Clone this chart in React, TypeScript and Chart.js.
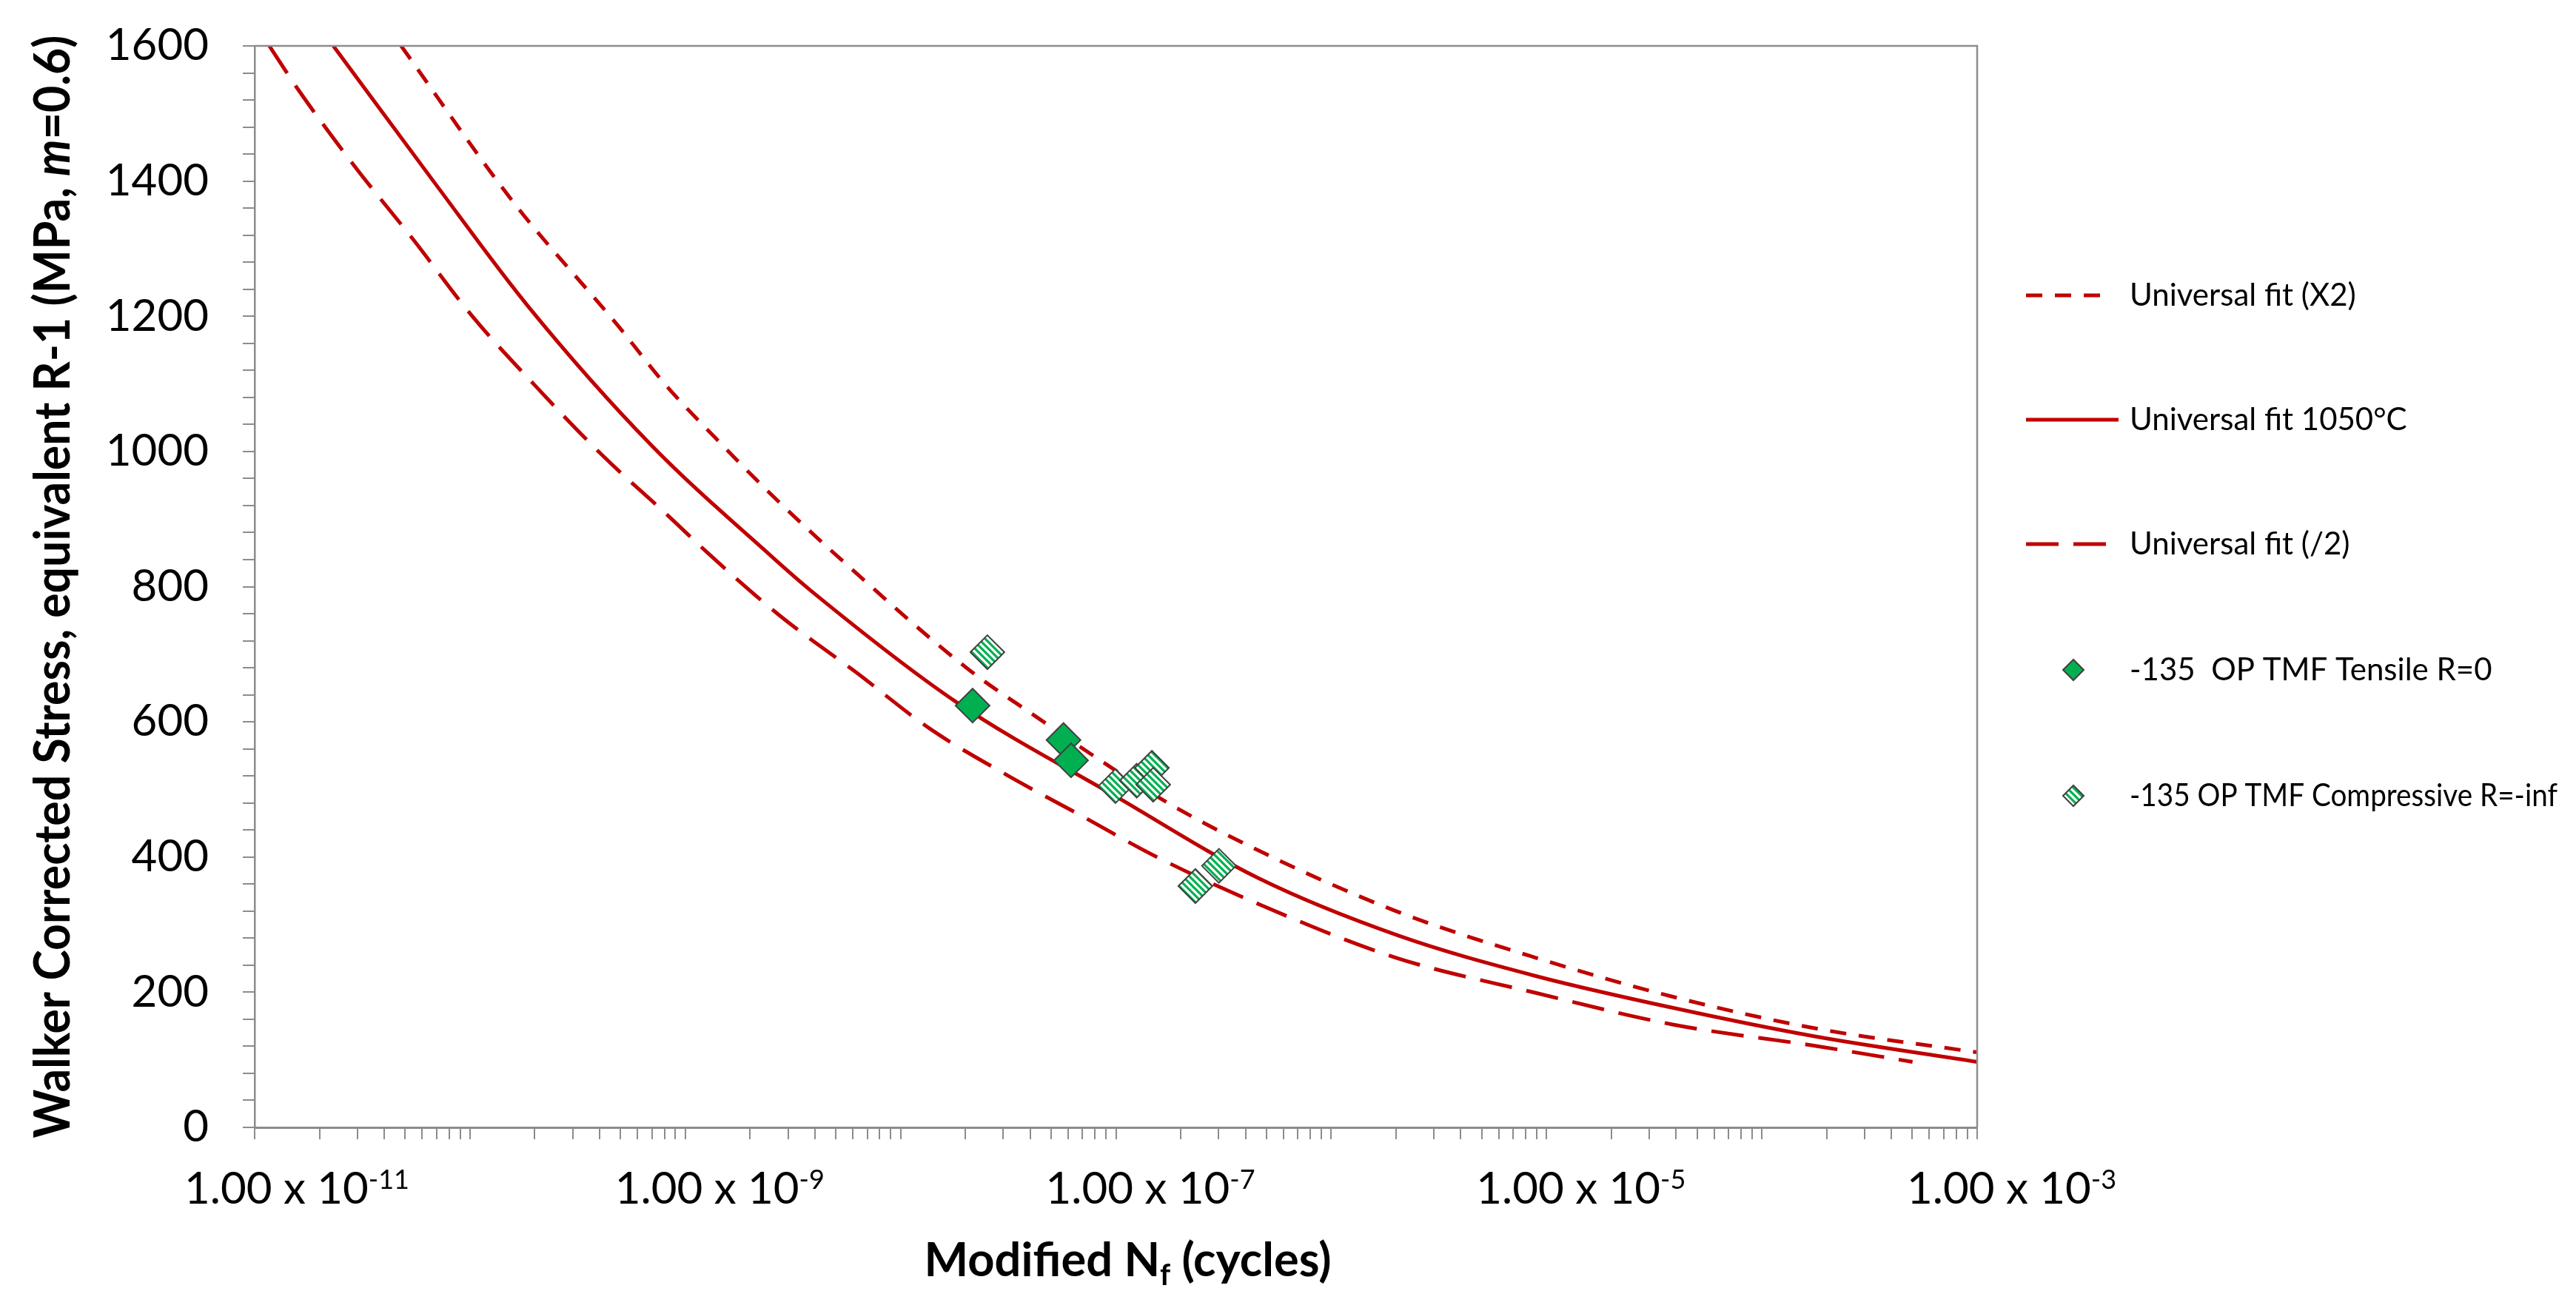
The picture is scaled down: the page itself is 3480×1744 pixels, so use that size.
import React, { useEffect, useRef } from 'react';
import { Chart, registerables } from 'chart.js';

Chart.register(...registerables);

// Universal fit curves: modified Nf (cycles) and Walker stress (MPa)
const FIT_N = [2.32e-11, 6.76e-11, 1.86e-10, 6.92e-10, 2.51e-9, 3.8e-9, 1.82e-8, 1.02e-7, 4.57e-7, 2.04e-6, 8.91e-6, 3.98e-5, 1.74e-4, 1e-3];
const FIT_S = [1600, 1400, 1215, 1010, 845, 795, 629, 488, 369, 284, 224, 176, 135, 97];

const FIT_X2_N = [4.79e-11, 1.58e-10, 4.9e-10, 8.13e-10, 1.38e-9, 2.57e-9, 5.01e-9, 2.04e-8, 3.98e-8, 1.62e-7, 4.57e-7, 2e-6, 8.91e-6, 3.89e-5, 1.74e-4, 1e-3];
const FIT_X2_S = [1600, 1370, 1185, 1098, 1020, 933, 847, 679, 614, 486, 410, 320, 251, 193, 147, 111];

const FIT_HALF_N = [1.17e-11, 1.58e-11, 2.88e-11, 5.5e-11, 1.02e-10, 2e-10, 4.07e-10, 8.32e-10, 1.26e-9, 2.75e-9, 6.17e-9, 1.38e-8, 3.09e-8, 6.92e-8, 1.55e-7, 4.79e-7, 2e-6, 8.91e-6, 3.89e-5, 1.74e-4, 5.01e-4];
const FIT_HALF_S = [1600, 1537, 1424, 1312, 1201, 1098, 996, 905, 851, 757, 674, 589, 522, 461, 400, 328, 251, 199, 152, 121, 97];

// test points
const TENSILE_N = [2.16e-8, 5.71e-8, 6.19e-8];
const TENSILE_S = [624, 573, 543];

const COMP_N = [2.53e-8, 9.95e-8, 1.25e-7, 1.47e-7, 1.49e-7, 2.34e-7, 3.01e-7];
const COMP_S = [703, 505, 513, 532, 507, 357, 387];

// axis ticks
const X_DECADES = [-11, -10, -9, -8, -7, -6, -5, -4];
const X_MINOR_STEPS = [1, 2, 3, 4, 5, 6, 7, 8, 9];
const X_LABEL_EXPONENTS = [-11, -9, -7, -5, -3];
const X_TICKS = [...X_DECADES.flatMap((e) => X_MINOR_STEPS.map((m) => m * Math.pow(10, e))), 1e-3];

const LEGEND_LABELS = [
  'Universal fit (X2)',
  'Universal fit 1050°C',
  'Universal fit (/2)',
  '-135  OP TMF Tensile R=0',
  '-135 OP TMF Compressive R=-inf',
];

const RED = '#C00000';
const GREEN = '#00B050';
const AXIS = '#8C8C8C';
const MARKER_EDGE = '#404040';
const FONT = 'Lato, "Open Sans", sans-serif';
const SHORT_DASH = [22, 17];
const LONG_DASH = [44, 20];

type Seg = { text: string; font: string; dy?: number };

// draws a run of text pieces (sub/superscripts, italics); squeezes it to maxW if given
function drawSegments(ctx: CanvasRenderingContext2D, segs: Seg[], x: number, y: number, align: 'left' | 'center', maxW?: number) {
  const widths = segs.map((s) => {
    ctx.font = s.font;
    return ctx.measureText(s.text).width;
  });
  const total = widths.reduce((a, b) => a + b, 0);
  const k = maxW ? Math.min(1, maxW / total) : 1;
  ctx.save();
  ctx.translate(x, y);
  ctx.scale(k, 1);
  let cx = align === 'center' ? -total / 2 : 0;
  segs.forEach((s, i) => {
    ctx.font = s.font;
    ctx.fillText(s.text, cx, s.dy || 0);
    cx += widths[i];
  });
  ctx.restore();
}

function diamond(ctx: CanvasRenderingContext2D, cx: number, cy: number, r: number) {
  ctx.beginPath();
  ctx.moveTo(cx - r, cy);
  ctx.lineTo(cx, cy - r);
  ctx.lineTo(cx + r, cy);
  ctx.lineTo(cx, cy + r);
  ctx.closePath();
}

function makeHatch(ctx: CanvasRenderingContext2D): CanvasPattern | string {
  const c = document.createElement('canvas');
  c.width = 9;
  c.height = 9;
  const g = c.getContext('2d');
  if (!g) return GREEN;
  g.fillStyle = '#ffffff';
  g.fillRect(0, 0, 9, 9);
  g.strokeStyle = GREEN;
  g.lineWidth = 3.2;
  g.beginPath();
  g.moveTo(-3, -3);
  g.lineTo(12, 12);
  g.moveTo(-3, 6);
  g.lineTo(3, 12);
  g.moveTo(6, -3);
  g.lineTo(12, 3);
  g.stroke();
  return ctx.createPattern(c, 'repeat') || GREEN;
}

const App: React.FC = () => {
  const canvasRef = useRef<HTMLCanvasElement>(null);
  const chartRef = useRef<Chart | null>(null);

  useEffect(() => {
    document.body.style.margin = '0';
    if (!canvasRef.current) return;
    const ctx = canvasRef.current.getContext('2d');
    if (!ctx) return;
    const hatch = makeHatch(ctx);

    const annotate = {
      id: 'annotate',
      afterDraw(chart: Chart) {
        const c = chart.ctx;
        const a = chart.chartArea;
        const xs = chart.scales.x;
        c.save();

        // frame on top and right
        c.strokeStyle = AXIS;
        c.lineWidth = 2.5;
        c.beginPath();
        c.moveTo(a.left, a.top);
        c.lineTo(a.right, a.top);
        c.lineTo(a.right, a.bottom);
        c.stroke();

        c.fillStyle = '#000000';
        c.textBaseline = 'alphabetic';

        // x tick labels with superscript exponents
        X_LABEL_EXPONENTS.forEach((e) => {
          const px = xs.getPixelForValue(Math.pow(10, e));
          drawSegments(c, [
            { text: '1.00 x 10', font: `60px ${FONT}` },
            { text: `${e}`, font: `36px ${FONT}`, dy: -20 },
          ], px - 95, 1626, 'left');
        });

        // x title
        drawSegments(c, [
          { text: 'Modified N', font: `bold 64px ${FONT}` },
          { text: 'f', font: `bold 40px ${FONT}`, dy: 12 },
          { text: ' (cycles)', font: `bold 64px ${FONT}` },
        ], (a.left + a.right) / 2 + 16, 1724, 'center', 550);

        // y title
        c.save();
        c.translate(73, (a.top + a.bottom) / 2);
        c.rotate(-Math.PI / 2);
        c.textBaseline = 'middle';
        drawSegments(c, [
          { text: 'Walker Corrected Stress, equivalent R-1 (MPa, ', font: `bold 66px ${FONT}` },
          { text: 'm', font: `italic bold 66px ${FONT}` },
          { text: '=0.6)', font: `bold 66px ${FONT}` },
        ], 0, 0, 'center', 1490);
        c.restore();

        // legend
        const lx = 2737;
        const tx = 2877;
        const rows = [399, 567, 735, 905, 1075];
        c.lineWidth = 5;
        c.strokeStyle = RED;
        const samples = [
          { dash: SHORT_DASH, w: 106 },
          { dash: [] as number[], w: 125 },
          { dash: LONG_DASH, w: 112 },
        ];
        samples.forEach((s, i) => {
          c.setLineDash(s.dash);
          c.beginPath();
          c.moveTo(lx, rows[i]);
          c.lineTo(lx + s.w, rows[i]);
          c.stroke();
        });
        c.setLineDash([]);
        [GREEN, hatch].forEach((fill, i) => {
          diamond(c, 2801, rows[3 + i], 14);
          c.fillStyle = fill;
          c.fill();
          c.strokeStyle = MARKER_EDGE;
          c.lineWidth = 2;
          c.stroke();
        });
        c.fillStyle = '#000000';
        c.textBaseline = 'middle';
        c.font = `42px ${FONT}`;
        LEGEND_LABELS.forEach((label, i) => {
          c.fillText(label, tx, rows[i], 3455 - tx);
        });

        c.restore();
      },
    };

    const toPoints = (xsArr: number[], ysArr: number[]) => xsArr.map((x, i) => ({ x, y: ysArr[i] }));

    chartRef.current = new Chart(ctx, {
      type: 'scatter',
      data: {
        datasets: [
          {
            label: LEGEND_LABELS[3],
            data: toPoints(TENSILE_N, TENSILE_S),
            pointStyle: 'rectRot',
            pointRadius: 23,
            backgroundColor: GREEN,
            borderColor: MARKER_EDGE,
            borderWidth: 2,
            order: 0,
          },
          {
            label: LEGEND_LABELS[4],
            data: toPoints(COMP_N, COMP_S),
            pointStyle: 'rectRot',
            pointRadius: 23,
            backgroundColor: hatch as any,
            borderColor: MARKER_EDGE,
            borderWidth: 2,
            order: 0,
          },
          {
            label: LEGEND_LABELS[0],
            data: toPoints(FIT_X2_N, FIT_X2_S),
            showLine: true,
            pointRadius: 0,
            borderColor: RED,
            borderWidth: 5,
            borderDash: SHORT_DASH,
            cubicInterpolationMode: 'monotone',
            order: 1,
          },
          {
            label: LEGEND_LABELS[1],
            data: toPoints(FIT_N, FIT_S),
            showLine: true,
            pointRadius: 0,
            borderColor: RED,
            borderWidth: 5,
            cubicInterpolationMode: 'monotone',
            order: 1,
          },
          {
            label: LEGEND_LABELS[2],
            data: toPoints(FIT_HALF_N, FIT_HALF_S),
            showLine: true,
            pointRadius: 0,
            borderColor: RED,
            borderWidth: 5,
            borderDash: LONG_DASH,
            cubicInterpolationMode: 'monotone',
            order: 1,
          },
        ],
      },
      options: {
        animation: false,
        responsive: true,
        maintainAspectRatio: false,
        devicePixelRatio: 1,
        layout: { padding: { left: 0, right: 809, top: 62, bottom: 0 } },
        plugins: {
          legend: { display: false },
          tooltip: { enabled: false },
        },
        scales: {
          x: {
            type: 'logarithmic',
            min: 1e-11,
            max: 1e-3,
            afterBuildTicks: (s: any) => {
              s.ticks = X_TICKS.map((value) => ({ value }));
            },
            afterFit: (s: any) => {
              s.height = 221;
              s.paddingLeft = 0;
              s.paddingRight = 0;
            },
            ticks: { display: false, autoSkip: false },
            grid: { drawOnChartArea: false, drawTicks: true, tickLength: 16, color: AXIS, lineWidth: 2 },
            border: { color: AXIS, width: 3 },
          },
          y: {
            min: 0,
            max: 1600,
            afterFit: (s: any) => {
              s.width = 344;
              // keep the tick label padding from pushing the plot down
              s.paddingTop = 0;
              s.paddingBottom = 0;
            },
            ticks: {
              stepSize: 40,
              autoSkip: false,
              padding: 46,
              color: '#000000',
              font: { family: FONT, size: 60 },
              callback: (v: any) => (Number(v) % 200 === 0 ? String(v) : ''),
            },
            grid: { drawOnChartArea: false, drawTicks: true, tickLength: 16, color: AXIS, lineWidth: 2 },
            border: { color: AXIS, width: 2.5 },
          },
        },
      },
      plugins: [annotate],
    });

    return () => {
      chartRef.current?.destroy();
      chartRef.current = null;
    };
  }, []);

  return (
    <div style={{ width: '3480px', height: '1744px', background: '#ffffff', position: 'relative' }}>
      <canvas ref={canvasRef}></canvas>
    </div>
  );
};

export default App;
